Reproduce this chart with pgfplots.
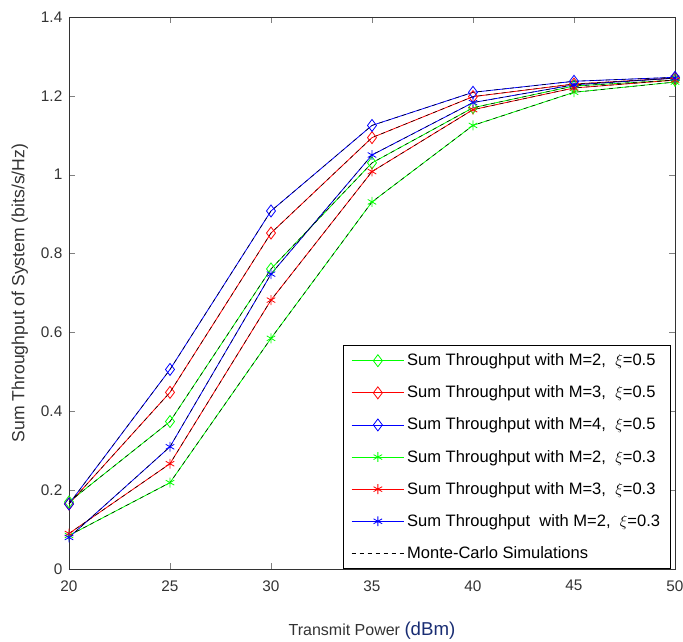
\documentclass[border=0pt]{standalone}
\usepackage{pgfplots}
\pgfplotsset{compat=1.18}
\usepackage{fontspec}
\setmainfont{Liberation Sans}
\definecolor{txt}{gray}{0.2}
\definecolor{dbm}{RGB}{25,45,115}
\definecolor{pgreen}{RGB}{0,255,0}
\begin{document}
\begin{tikzpicture}
\begin{axis}[
  width=454.5pt, height=414pt, scale only axis,
  xmin=20, xmax=50, ymin=0, ymax=1.4,
  xtick={20,25,...,50}, ytick={0,0.2,...,1.4},
  yticklabels={0,0.2,0.4,0.6,0.8,1,1.2,1.4},
  tick align=inside, tick pos=both,
  axis line style={black!80},
  /pgf/number format/assume math mode=true,
  tick label style={font=\fontsize{11.5}{13}\selectfont, text=txt},
  xticklabel style={yshift=-5pt},
  yticklabel style={xshift=-1.5pt},
  xlabel={Transmit Power {\fontsize{14}{16}\selectfont\color{dbm}(dBm)}},
  ylabel={Sum Throughput of System (bits/s/Hz)},
  every axis x label/.style={at={(axis description cs:0.5,-0.111)}, anchor=center, font=\fontsize{12}{14}\selectfont, text=txt},
  every axis y label/.style={at={(axis description cs:-0.081,0.5)}, rotate=90, anchor=center, font=\fontsize{13.2}{15}\selectfont, text=txt},
  legend style={at={(axis description cs:0.994,0)}, anchor=south east, font=\fontsize{12.4}{14}\selectfont, row sep=9.6pt, inner xsep=6pt, inner ysep=4pt, draw=black, line width=0.9pt, cells={anchor=west}},
  legend cell align=left,
  legend image code/.code={\draw[line width=0.6pt, mark repeat=2,mark phase=2] plot coordinates {(0cm,0cm) (0.69cm,0cm) (1.38cm,0cm)};},
  every axis plot/.append style={line width=0.6pt},
]
% M=2, xi=0.5
\addplot[color=pgreen, mark=diamond, mark size=4.5pt] coordinates {(20,0.17) (25,0.374) (30,0.761) (35,1.03) (40,1.17) (45,1.225) (50,1.24)};
\addlegendentry{Sum Throughput with M=2,\ \ $\xi$=0.5}
% M=3, xi=0.5
\addplot[color=red, mark=diamond, mark size=4.5pt] coordinates {(20,0.165) (25,0.448) (30,0.852) (35,1.094) (40,1.198) (45,1.23) (50,1.245)};
\addlegendentry{Sum Throughput with M=3,\ \ $\xi$=0.5}
% M=4, xi=0.5
\addplot[color=blue, mark=diamond, mark size=4.5pt] coordinates {(20,0.165) (25,0.506) (30,0.908) (35,1.125) (40,1.209) (45,1.237) (50,1.247)};
\addlegendentry{Sum Throughput with M=4,\ \ $\xi$=0.5}
% M=2, xi=0.3
\addplot[color=pgreen, mark=asterisk, mark size=3.7pt] coordinates {(20,0.085) (25,0.219) (30,0.585) (35,0.931) (40,1.125) (45,1.209) (50,1.235)};
\addlegendentry{Sum Throughput with M=2,\ \ $\xi$=0.3}
% M=3, xi=0.3
\addplot[color=red, mark=asterisk, mark size=3.7pt] coordinates {(20,0.09) (25,0.267) (30,0.682) (35,1.008) (40,1.165) (45,1.22) (50,1.24)};
\addlegendentry{Sum Throughput with M=3,\ \ $\xi$=0.3}
% M=2, xi=0.3 (blue)
\addplot[color=blue, mark=asterisk, mark size=3.7pt] coordinates {(20,0.08) (25,0.31) (30,0.748) (35,1.05) (40,1.183) (45,1.228) (50,1.245)};
\addlegendentry{Sum Throughput\ \ with M=2,\ \ $\xi$=0.3}
% Monte-Carlo overlays
\addplot[black, dashed, line width=0.4pt, forget plot] coordinates {(20,0.17) (25,0.374) (30,0.761) (35,1.03) (40,1.17) (45,1.225) (50,1.24)};
\addplot[black, dashed, line width=0.4pt, forget plot] coordinates {(20,0.165) (25,0.448) (30,0.852) (35,1.094) (40,1.198) (45,1.23) (50,1.245)};
\addplot[black, dashed, line width=0.4pt, forget plot] coordinates {(20,0.165) (25,0.506) (30,0.908) (35,1.125) (40,1.209) (45,1.237) (50,1.247)};
\addplot[black, dashed, line width=0.4pt, forget plot] coordinates {(20,0.085) (25,0.219) (30,0.585) (35,0.931) (40,1.125) (45,1.209) (50,1.235)};
\addplot[black, dashed, line width=0.4pt, forget plot] coordinates {(20,0.09) (25,0.267) (30,0.682) (35,1.008) (40,1.165) (45,1.22) (50,1.24)};
\addplot[black, dashed, line width=0.4pt] coordinates {(20,0.08) (25,0.31) (30,0.748) (35,1.05) (40,1.183) (45,1.228) (50,1.245)};
\addlegendentry{Monte-Carlo Simulations}
\end{axis}
\pgfresetboundingbox
\path (current axis.south west) ++(-51.75pt,-54.75pt) coordinate (bbA);
\path (current axis.north east) ++(6pt,12.75pt) coordinate (bbB);
\path[use as bounding box] (bbA) rectangle (bbB);
\end{tikzpicture}
\end{document}
